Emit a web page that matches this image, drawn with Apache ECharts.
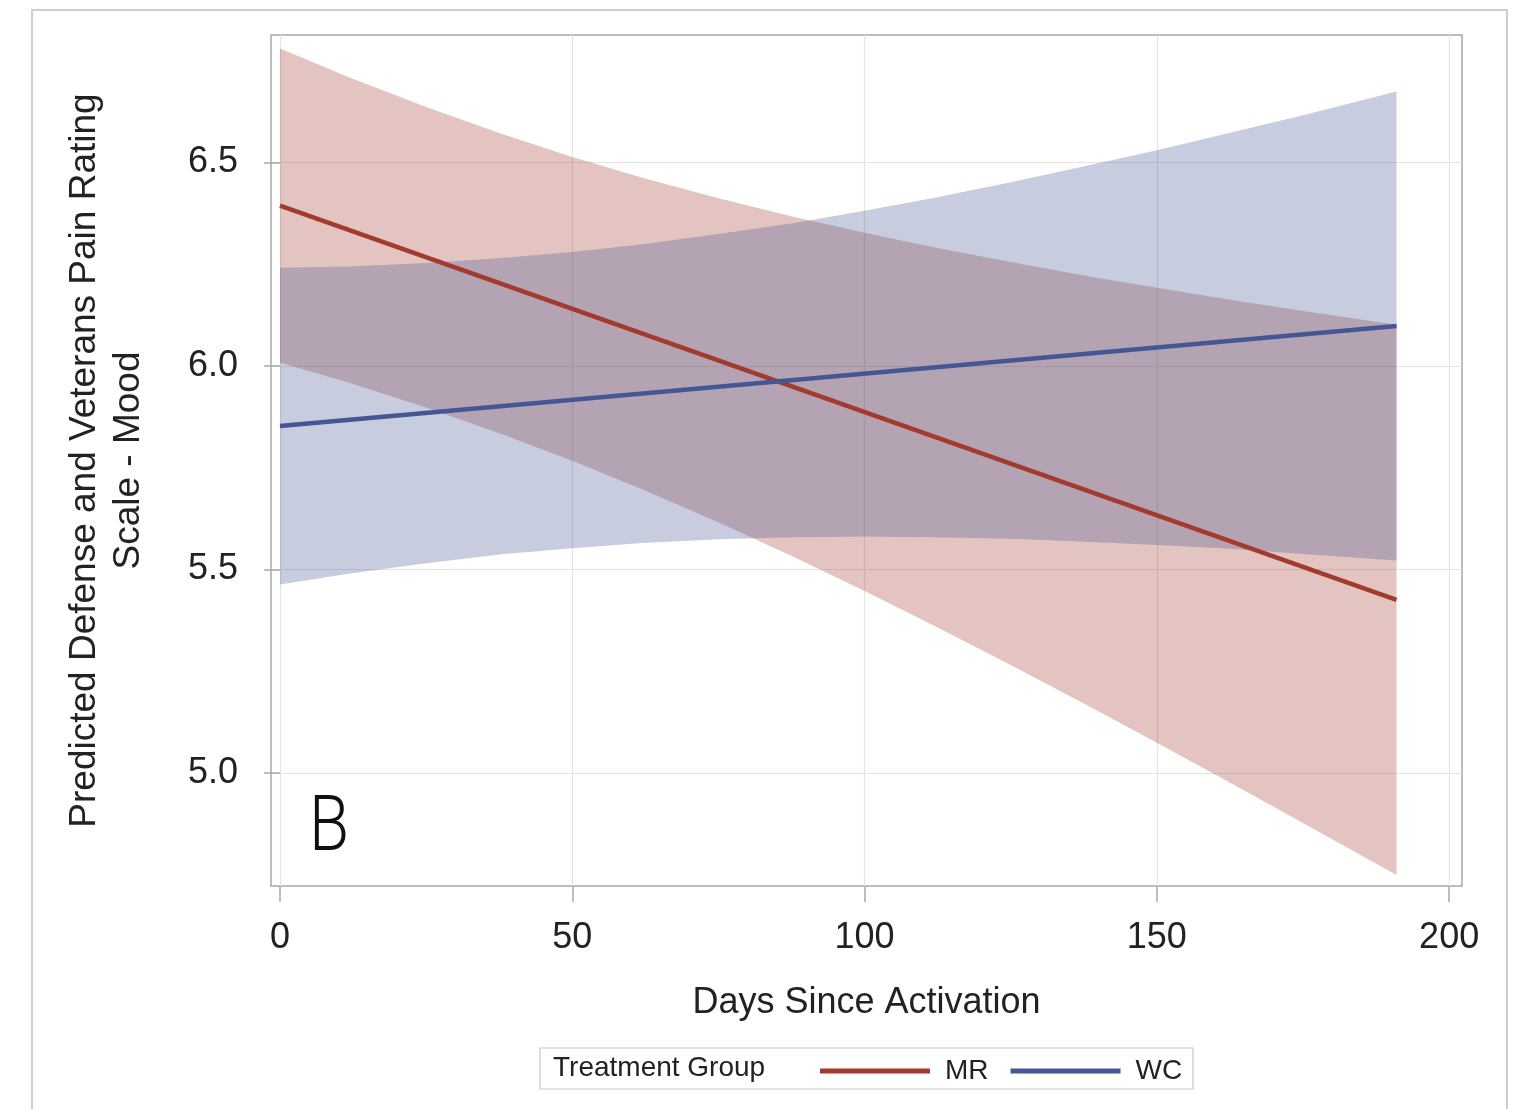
<!DOCTYPE html>
<html>
<head>
<meta charset="utf-8">
<script src="https://cdn.jsdelivr.net/npm/echarts@6/dist/echarts.min.js"></script>
<style>
  html, body { margin: 0; padding: 0; background: #ffffff; }
  #chart { width: 1519px; height: 1109px; }
</style>
</head>
<body>
<div id="chart"></div>
<script>
// ---- data ----
const days    = [0, 12, 25, 38, 50, 62, 75, 88, 100, 112, 125, 138, 150, 162, 175, 191];
const mrUpper = [6.780, 6.708, 6.636, 6.570, 6.513, 6.462, 6.412, 6.366, 6.327, 6.291, 6.255, 6.221, 6.192, 6.164, 6.135, 6.101];
const mrLower = [6.008, 5.958, 5.898, 5.832, 5.767, 5.696, 5.616, 5.530, 5.447, 5.361, 5.265, 5.167, 5.074, 4.980, 4.877, 4.749];
const wcUpper = [6.241, 6.244, 6.253, 6.265, 6.280, 6.299, 6.324, 6.351, 6.381, 6.413, 6.451, 6.492, 6.530, 6.571, 6.616, 6.674];
const wcLower = [5.463, 5.490, 5.515, 5.537, 5.552, 5.565, 5.574, 5.579, 5.581, 5.579, 5.575, 5.568, 5.560, 5.551, 5.538, 5.522];
const lineDays = [0, 191];
const mrLine   = [6.394, 5.425];
const wcLine   = [5.852, 6.098];
const xTicks = [0, 50, 100, 150, 200];
const yTicks = [5.0, 5.5, 6.0, 6.5];
const groupNames = ['MR', 'WC'];

const FONT = '"Liberation Sans", Arial, sans-serif';
const MR_COLOR = '#A23A2E';
const WC_COLOR = '#445694';

function bandSeries(name, upper, lower, fill) {
  return {
    name: name,
    type: 'custom',
    coordinateSystem: 'cartesian2d',
    silent: true,
    clip: true,
    data: [[days[0], upper[0]]],
    renderItem: function (params, api) {
      const pts = [];
      for (let i = 0; i < days.length; i++) pts.push(api.coord([days[i], upper[i]]));
      for (let i = days.length - 1; i >= 0; i--) pts.push(api.coord([days[i], lower[i]]));
      return { type: 'polygon', shape: { points: pts }, style: { fill: fill } };
    },
    z: 1
  };
}

const chart = echarts.init(document.getElementById('chart'), null, { renderer: 'canvas' });
chart.setOption({
  animation: false,
  backgroundColor: '#ffffff',
  grid: {
    left: 271, top: 35, right: 57, bottom: 223,
    show: true, borderColor: '#a8a8a8', borderWidth: 1.5, backgroundColor: 'transparent'
  },
  xAxis: {
    type: 'value',
    min: -1.54, max: 202.2,
    splitNumber: 4,
    name: 'Days Since Activation',
    nameLocation: 'middle',
    nameGap: 97,
    nameTextStyle: { fontFamily: FONT, fontSize: 36, color: '#222', lineHeight: 40 },
    axisLine: { show: false },
    axisTick: { show: true, customValues: xTicks, length: 16, lineStyle: { color: '#a8a8a8', width: 1.5 } },
    axisLabel: { customValues: xTicks, margin: 32, fontFamily: FONT, fontSize: 36, color: '#222', lineHeight: 40 },
    splitLine: { show: true, lineStyle: { color: '#e4e4e4', width: 1.2 } }
  },
  yAxis: {
    type: 'value',
    min: 4.722, max: 6.813,
    splitNumber: 4,
    name: 'Predicted Defense and Veterans Pain Rating\nScale - Mood',
    nameLocation: 'middle',
    nameRotate: 90,
    nameGap: 120,
    nameTextStyle: { fontFamily: FONT, fontSize: 37, color: '#222', lineHeight: 44, align: 'center' },
    axisLine: { show: false },
    axisTick: { show: true, customValues: yTicks, length: 16, lineStyle: { color: '#a8a8a8', width: 1.5 } },
    axisLabel: {
      customValues: yTicks, margin: 33, fontFamily: FONT, fontSize: 36, color: '#222',
      formatter: function (v) { return v.toFixed(1); }
    },
    splitLine: { show: true, lineStyle: { color: '#e4e4e4', width: 1.2 } }
  },
  legend: {
    data: groupNames,
    left: 815, top: 1052,
    icon: 'rect',
    itemWidth: 110, itemHeight: 5,
    itemGap: 22,
    textStyle: { fontFamily: FONT, fontSize: 28, color: '#222', padding: [0, 0, 0, 10] },
    selectedMode: false
  },
  graphic: [
    { type: 'rect', shape: { x: 32, y: 10, width: 1475, height: 1120 },
      style: { fill: 'none', stroke: '#cfcfcf', lineWidth: 2 }, silent: true, z: -10 },
    { type: 'rect', shape: { x: 540, y: 1048, width: 653, height: 41 },
      style: { fill: 'none', stroke: '#c8c8c8', lineWidth: 1.2 }, silent: true },
    { type: 'text', left: 553, top: 1054,
      style: { text: 'Treatment Group', font: '28px ' + FONT, fill: '#222' }, silent: true },
    { type: 'text', x: 309, y: 831, scaleX: 0.85, originX: 0, originY: 0,
      style: { text: 'B', font: '300 77px Roboto, ' + FONT, fill: '#111', textVerticalAlign: 'middle' },
      silent: true, z: 10 }
  ],
  series: [
    bandSeries('MR band', mrUpper, mrLower, 'rgba(162,58,46,0.3)'),
    bandSeries('WC band', wcUpper, wcLower, 'rgba(68,86,148,0.3)'),
    {
      name: 'MR', type: 'line', symbol: 'none', z: 3,
      data: lineDays.map((d, i) => [d, mrLine[i]]),
      lineStyle: { color: MR_COLOR, width: 4.5 }, itemStyle: { color: MR_COLOR }
    },
    {
      name: 'WC', type: 'line', symbol: 'none', z: 4,
      data: lineDays.map((d, i) => [d, wcLine[i]]),
      lineStyle: { color: WC_COLOR, width: 4.5 }, itemStyle: { color: WC_COLOR }
    }
  ]
});
</script>
</body>
</html>
